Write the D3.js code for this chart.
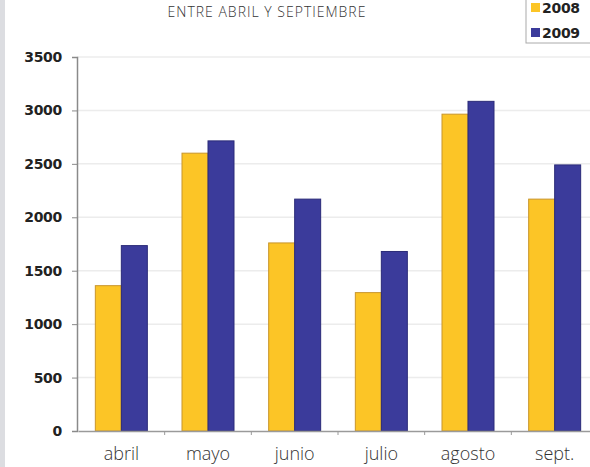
<!DOCTYPE html>
<html>
<head>
<meta charset="utf-8">
<script src="https://cdn.jsdelivr.net/npm/d3@7"></script>
<style>
  body { margin: 0; background: #fff; }
  svg { display: block; }
</style>
</head>
<body>
<svg id="chart" width="590" height="467"></svg>
<script>
// datos
const months = ['abril', 'mayo', 'junio', 'julio', 'agosto', 'sept.'];
const series = ['2008', '2009'];
const values2008 = [1360, 2600, 1760, 1295, 2965, 2170];
const values2009 = [1735, 2715, 2170, 1680, 3085, 2490];
const yTickValues = [0, 500, 1000, 1500, 2000, 2500, 3000, 3500];

const colors = { '2008': '#fcc526', '2009': '#3b3b9b' };
const strokes = { '2008': '#c8952c', '2009': '#2b2b78' };

const width = 590, height = 467,
    plotLeft = 77,
    plotTop = 57,
    plotBottom = 431;

const svg = d3.select('#chart');

// franja gris a la izquierda
svg.append('rect')
    .attr('x', 0).attr('y', 0)
    .attr('width', 5).attr('height', height)
    .attr('fill', '#dcdde1');

// titulo (en el original sale cortado arriba)
svg.append('text')
    .attr('x', 267).attr('y', 17)
    .attr('text-anchor', 'middle')
    .attr('font-family', 'Open Sans, sans-serif')
    .attr('font-size', 14)
    .attr('font-weight', 300)
    .attr('letter-spacing', 1)
    .attr('fill', '#333')
    .text('ENTRE ABRIL Y SEPTIEMBRE');

const y = d3.scaleLinear()
    .domain([0, 3500])
    .range([plotBottom, plotTop]);

const x = d3.scaleBand()
    .domain(months)
    .range([78, 598])
    .paddingInner(0.4)
    .paddingOuter(0.2);

const xSub = d3.scaleBand()
    .domain(series)
    .range([0, x.bandwidth()]);

// lineas de rejilla
svg.append('g')
    .selectAll('line')
    .data(yTickValues.slice(1))
    .enter().append('line')
        .attr('x1', plotLeft).attr('x2', width)
        .attr('y1', d => y(d)).attr('y2', d => y(d))
        .attr('stroke', '#ececec')
        .attr('stroke-width', 1.5);

// barras
const rows = months.map((m, i) => ({ month: m, '2008': values2008[i], '2009': values2009[i] }));

svg.append('g')
    .selectAll('g')
    .data(rows)
    .enter().append('g')
        .attr('transform', d => `translate(${x(d.month)},0)`)
    .selectAll('rect')
    .data(d => series.map(s => ({ key: s, value: d[s] })))
    .enter().append('rect')
        .attr('x', d => xSub(d.key))
        .attr('y', d => y(d.value))
        .attr('width', xSub.bandwidth())
        .attr('height', d => plotBottom - y(d.value))
        .attr('fill', d => colors[d.key])
        .attr('stroke', d => strokes[d.key])
        .attr('stroke-width', 1);

// eje Y
const yAxis = d3.axisLeft(y)
    .tickValues(yTickValues)
    .tickFormat(d3.format('d'))
    .tickSize(5)
    .tickPadding(10);

const gy = svg.append('g')
    .attr('transform', `translate(${plotLeft},0)`)
    .call(yAxis);
gy.select('.domain').attr('stroke', '#8a8a8a').attr('stroke-width', 1.5);
gy.selectAll('.tick line').attr('stroke', '#8a8a8a');
gy.selectAll('.tick text')
    .attr('font-family', 'DejaVu Sans, sans-serif')
    .attr('font-size', 14)
    .attr('font-weight', 'bold')
    .attr('letter-spacing', -0.3)
    .attr('fill', '#222');

// eje X
const xAxis = d3.axisBottom(x).tickSize(0).tickPadding(16);
const gx = svg.append('g')
    .attr('transform', `translate(0,${plotBottom})`)
    .call(xAxis);
gx.select('.domain').attr('stroke', '#9a9a9a').attr('stroke-width', 1.5);
gx.selectAll('.tick text')
    .attr('font-family', 'Open Sans, sans-serif')
    .attr('font-size', 18)
    .attr('font-weight', 300)
    .attr('fill', '#333');

// pequeñas marcas entre categorias
svg.append('g')
    .selectAll('line')
    .data(months.slice(1))
    .enter().append('line')
        .attr('x1', d => x(d) - x.step() * x.paddingInner() / 2)
        .attr('x2', d => x(d) - x.step() * x.paddingInner() / 2)
        .attr('y1', plotBottom).attr('y2', plotBottom + 4)
        .attr('stroke', '#9a9a9a');

// leyenda
const legend = svg.append('g').attr('transform', 'translate(526,-4)');
legend.append('rect')
    .attr('width', 70).attr('height', 47)
    .attr('fill', '#fff')
    .attr('stroke', '#aaa');
series.forEach((s, i) => {
    legend.append('rect')
        .attr('x', 5).attr('y', 7 + i * 25)
        .attr('width', 9).attr('height', 9)
        .attr('fill', colors[s]);
    legend.append('text')
        .attr('x', 16).attr('y', 17 + i * 25)
        .attr('font-family', 'DejaVu Sans, sans-serif')
        .attr('font-size', 14)
        .attr('font-weight', 'bold')
        .attr('letter-spacing', -0.3)
        .attr('fill', '#222')
        .text(s);
});
</script>
</body>
</html>
